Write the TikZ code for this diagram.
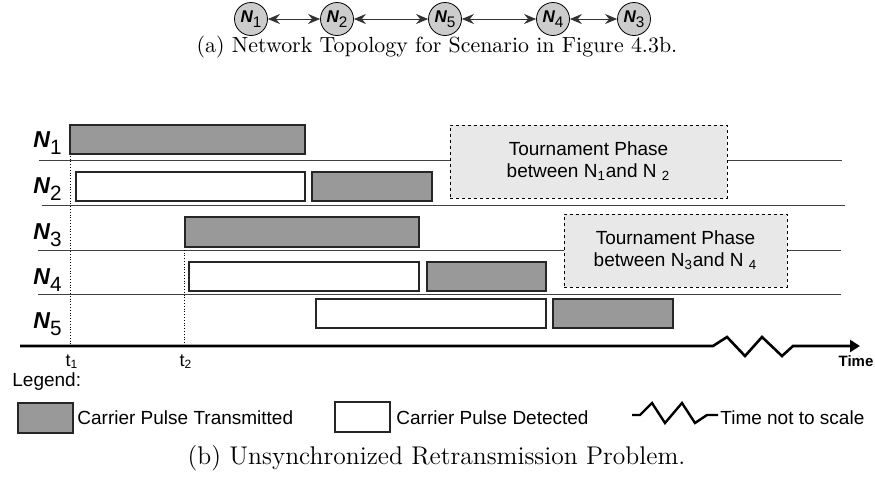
\documentclass[tikz,border=0pt]{standalone}
\usepackage{fontspec}
\newfontfamily\arialfont{Liberation Sans}
\usetikzlibrary{arrows.meta}

% node name: bold italic N with a lowered index
\newcommand{\Nsub}[1]{{\bfseries\itshape N}\raisebox{-0.32em}{\mdseries\upshape\scalebox{0.9}{#1}}}

\begin{document}
\begin{tikzpicture}[
x=0.5pt, y=-0.5pt,
topnode/.style={
circle,
draw,
fill=black!20,
minimum size=16.5pt,
inner sep=0 pt,
font=\arialfont\fontsize{8.5}{10}\selectfont,
},
link/.style={
draw=black!80,
{Stealth[length=6pt, width=5pt, inset=2pt]}-{Stealth[length=6pt, width=5pt, inset=2pt]},
},
rowlabel/.style={anchor=base west, inner sep=0 pt, font=\arialfont\fontsize{11.5}{13}\selectfont},
txpulse/.style={draw=black!85, fill=black!40, line width=0.6pt},
rxpulse/.style={draw=black!85, fill=white, line width=0.6pt},
rowline/.style={draw=black!75, line width=0.5pt},
phasebox/.style={
draw,
dash pattern=on 1.5pt off 1.5pt,
fill=black!9,
align=center,
inner sep=0 pt,
minimum height=36.5pt,
font=\arialfont\fontsize{9.5}{11}\selectfont,
},
labeltext/.style={inner sep=0 pt, font=\arialfont\fontsize{9.5}{11}\selectfont},
caption/.style={font=\fontsize{10.95}{13}\selectfont},
]
\useasboundingbox (0,0) rectangle (875,479);

% network topology
\node [topnode] at (251,19) (n1) {\Nsub{1}};
\node [topnode] at (337,19) (n2) {\Nsub{2}};
\node [topnode] at (445,19) (n5) {\Nsub{5}};
\node [topnode] at (553,19) (n4) {\Nsub{4}};
\node [topnode] at (634,19) (n3) {\Nsub{3}};

\draw [link] (n1) -- (n2);
\draw [link] (n2) -- (n5);
\draw [link] (n5) -- (n4);
\draw [link] (n4) -- (n3);

\node [caption] at (437,47) (capa) {(a) Network Topology for Scenario in Figure 4.3b.};

% row separators
\draw [rowline]
(39,160) -- (842,160)
(42,205) -- (845,205)
(38,250) -- (841,250)
(38,294) -- (841,294)
;

% row labels
\path [every node/.style={rowlabel}]
(33,147) node (r1) {\Nsub{1}}
(33,193) node (r2) {\Nsub{2}}
(33,239) node (r3) {\Nsub{3}}
(33,284) node (r4) {\Nsub{4}}
(33,328) node (r5) {\Nsub{5}}
;

% instants t1, t2
\draw [densely dotted, line width=0.4pt]
(70.5,125) -- (70.5,346)
(184.5,247) -- (184.5,346)
;

% carrier pulses
\draw [txpulse] (70,125) rectangle (305,154);
\draw [rxpulse] (76,172) rectangle (305,201);
\draw [txpulse] (312,172) rectangle (432,201);
\draw [txpulse] (185,217) rectangle (419,247);
\draw [rxpulse] (189,262) rectangle (419,291);
\draw [txpulse] (427,262) rectangle (546,291);
\draw [rxpulse] (316,299) rectangle (546,328);
\draw [txpulse] (553,299) rectangle (673,328);

% tournament phases
\node [phasebox, minimum width=138.5pt] at (588.5,161.5) (ph1)
{Tournament Phase\\between N\textsubscript{1}and N \textsubscript{2}};
\node [phasebox, minimum width=111.5pt] at (675.5,250.5) (ph2)
{Tournament Phase\\between N\textsubscript{3}and N \textsubscript{4}};

% time axis
\coordinate (ax0) at (20,346);
\coordinate (ax1) at (860,346);
\draw [line width=1.3pt, -{Triangle[length=5pt, width=6pt]}]
(ax0) -- (713,346) -- (727,337) -- (745,356) -- (762,337)
-- (782,356) -- (793,346) -- (ax1);

\node [anchor=base, inner sep=0 pt, font=\arialfont\bfseries\fontsize{7.5}{9}\selectfont]
at (856,366) (time) {Time};
\path [every node/.style={anchor=base, inner sep=0 pt, font=\arialfont\fontsize{9}{10}\selectfont}]
(72,366) node (t1) {t\textsubscript{1}}
(186,366) node (t2) {t\textsubscript{2}}
;

% legend
\node [labeltext, anchor=base west] at (12,386) (legend) {Legend:};
\draw [txpulse] (18,403) rectangle (73,433);
\node [labeltext, anchor=base west] at (77,424) (lgtx) {Carrier Pulse Transmitted};
\draw [rxpulse] (335,402) rectangle (390,432);
\node [labeltext, anchor=base west] at (396,424) (lgrx) {Carrier Pulse Detected};
\draw [line width=1.2pt]
(632,415) -- (640,415) -- (652,403) -- (665,423) -- (682,403)
-- (695,423) -- (707,415) -- (718,415);
\node [labeltext, anchor=base west] at (720,424) (lgscale) {Time not to scale};

\node [caption, font=\fontsize{12.8}{15}\selectfont] at (436.5,458) (capb)
{(b) Unsynchronized Retransmission Problem.};

\end{tikzpicture}
\end{document}
